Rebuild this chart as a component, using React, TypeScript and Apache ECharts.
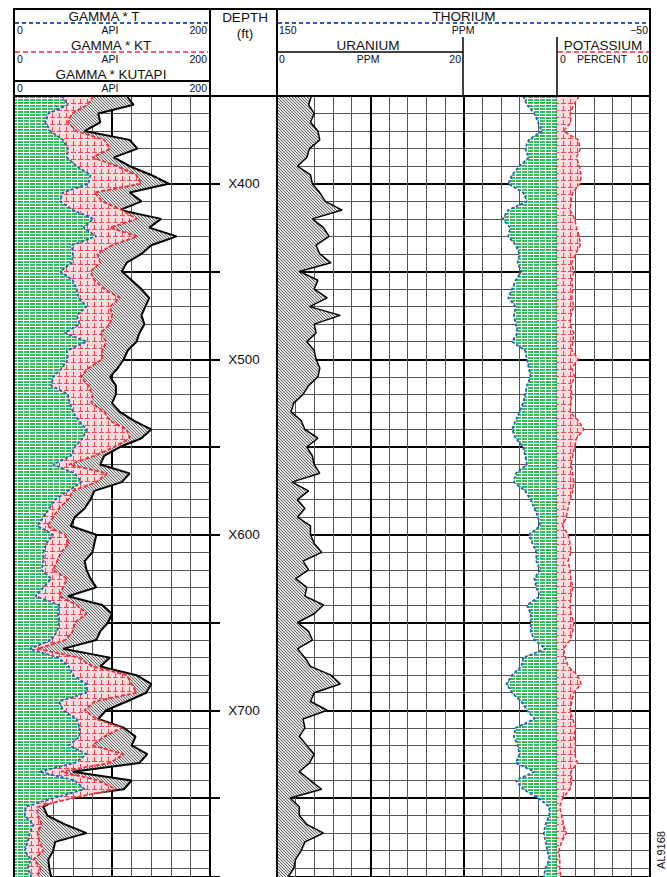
import React, { useEffect, useRef } from 'react';
import * as echarts from 'echarts';

// Depth categories (ft, shown as X###)
const depths = [
  350, 355, 360, 365, 370, 375, 380, 385, 390, 395, 400, 405, 410, 415, 420, 425, 430, 435, 440, 445,
  450, 455, 460, 465, 470, 475, 480, 485, 490, 495, 500, 505, 510, 515, 520, 525, 530, 535, 540, 545,
  550, 555, 560, 565, 570, 575, 580, 585, 590, 595, 600, 605, 610, 615, 620, 625, 630, 635, 640, 645,
  650, 655, 660, 665, 670, 675, 680, 685, 690, 695, 700, 705, 710, 715, 720, 725, 730, 735, 740, 745,
  750, 755, 760, 765, 770, 775, 780, 785, 790, 795,
];

// GAMMA * T (API)
const gammaT = [
  49, 55, 35, 32, 37, 50, 55, 54, 64, 78, 76, 50, 47, 60, 81, 71, 84, 59, 60, 59, 47, 60, 64, 66, 74, 64, 67, 52, 74, 54,
  55, 49, 40, 38, 55, 57, 60, 66, 74, 70, 62, 58, 40, 62, 69, 55, 42, 36, 30, 24, 40, 33, 30, 30, 28, 38, 30, 22, 46, 45,
  46, 44, 38, 16, 45, 56, 60, 74, 74, 46, 50, 64, 67, 67, 56, 74, 62, 26, 62, 72, 40, 12, 11, 20, 16, 14, 11, 17, 14, 18,
];

// GAMMA * KT (API)
const gammaKT = [
  81, 75, 59, 55, 64, 92, 98, 80, 105, 125, 130, 82, 90, 110, 125, 98, 126, 100, 85, 88, 78, 82, 92, 108, 98, 100, 98, 88, 94, 90,
  90, 76, 68, 76, 80, 79, 92, 98, 115, 118, 102, 82, 56, 95, 84, 60, 55, 46, 40, 34, 52, 56, 48, 44, 40, 54, 50, 46, 64, 74,
  62, 60, 52, 24, 66, 80, 115, 120, 125, 82, 72, 84, 110, 92, 80, 112, 98, 48, 86, 104, 60, 24, 24, 28, 24, 26, 30, 20, 27, 24,
];

// GAMMA * KUTAPI (API)
const gammaKUTAPI = [
  115, 122, 86, 88, 72, 118, 126, 102, 118, 140, 158, 118, 130, 108, 150, 138, 166, 140, 130, 115, 110, 120, 130, 138, 134, 130, 133, 128, 125, 116,
  112, 106, 98, 104, 104, 100, 108, 122, 140, 130, 108, 92, 88, 118, 110, 82, 78, 72, 62, 58, 84, 82, 80, 72, 74, 78, 84, 55, 90, 100,
  96, 88, 84, 50, 98, 88, 125, 140, 135, 115, 94, 86, 112, 124, 120, 136, 128, 60, 120, 112, 45, 30, 34, 52, 74, 42, 40, 35, 36, 38,
];

// URANIUM (PPM)
const uranium = [
  3.7, 3.4, 4.0, 3.6, 4.4, 4.6, 3.5, 3.2, 2.2, 3.6, 3.8, 4.6, 5.2, 7.0, 3.8, 5.0, 5.6, 4.2, 4.6, 5.8, 2.4, 4.4, 4.0, 5.4, 3.5, 6.8, 4.0, 4.2, 3.2, 4.0,
  4.2, 4.6, 4.4, 3.4, 2.8, 1.8, 1.5, 2.6, 3.0, 4.4, 3.2, 3.8, 4.0, 4.6, 1.6, 3.4, 2.2, 3.0, 2.2, 3.6, 3.6, 4.0, 4.8, 2.8, 3.4, 2.0, 3.2, 3.0, 5.0, 4.0,
  2.2, 3.4, 3.8, 2.2, 3.0, 3.6, 5.8, 6.8, 4.0, 3.6, 5.4, 2.8, 3.0, 2.4, 3.2, 4.0, 3.5, 2.4, 3.6, 4.8, 1.4, 2.4, 2.4, 3.2, 5.0, 3.0, 2.6, 2.0, 1.8, 1.2,
];

// THORIUM (PPM)
const thorium = [
  18, 16, 12, 10, 8, 15, 17, 15, 20, 24, 26, 18, 16, 26, 29, 25, 26, 22, 20, 21, 19, 22, 24, 26, 22, 23, 22, 21, 24, 17,
  16, 15, 14, 16, 17, 18, 20, 22, 24, 22, 18, 17, 16, 22, 23, 17, 14, 12, 10, 9, 15, 13, 11, 11, 9, 12, 11, 9, 16, 14,
  14, 14, 12, 6, 18, 19, 24, 27, 24, 19, 16, 12, 22, 23, 21, 20, 22, 12, 22, 18, 10, 4, 4, 6, 7, 6, 5, 4, 6, 7,
];

// POTASSIUM (PERCENT)
const potassium = [
  2.4, 1.8, 1.4, 1.5, 0.7, 2.3, 2.5, 2.1, 2.4, 2.6, 2.5, 1.7, 1.5, 1.4, 1.9, 2.1, 2.4, 2.5, 2.0, 1.6, 1.8, 1.6, 1.7, 1.6, 1.8, 1.5, 1.4, 1.8, 1.7, 1.6,
  2.3, 1.6, 1.9, 1.5, 1.6, 1.5, 1.4, 2.3, 2.9, 2.1, 1.9, 1.7, 1.5, 1.7, 1.8, 1.7, 1.4, 1.2, 1.0, 0.6, 1.2, 1.4, 1.5, 1.2, 1.4, 1.5, 1.7, 1.5, 1.4, 1.5,
  1.8, 1.7, 1.4, 0.7, 0.9, 1.2, 2.2, 2.6, 1.8, 1.6, 1.4, 1.7, 2.0, 1.8, 2.0, 1.9, 2.2, 1.5, 1.6, 1.4, 0.6, 0.3, 0.5, 0.7, 1.0, 0.5, 0.2, 0.3, 0.3, 0.4,
];

const BLUE = '#2b5cb8';
const RED = '#e8303a';
const FONT = '"Liberation Sans", Arial, Helvetica, sans-serif';

function makePattern(w: number, h: number, draw: (ctx: CanvasRenderingContext2D) => void) {
  const c = document.createElement('canvas');
  c.width = w;
  c.height = h;
  const ctx = c.getContext('2d') as CanvasRenderingContext2D;
  draw(ctx);
  return { image: c, repeat: 'repeat', imageWidth: w, imageHeight: h } as any;
}

export default function App() {
  const ref = useRef<HTMLDivElement>(null);

  useEffect(() => {
    if (!ref.current) return;
    const chart = echarts.init(ref.current, null, { renderer: 'svg' });

    const greenPat = makePattern(6, 3, (ctx) => {
      ctx.fillStyle = '#ffffff';
      ctx.fillRect(0, 0, 6, 3);
      ctx.fillStyle = '#3db865';
      ctx.fillRect(0, 0, 5, 2);
    });
    const pinkPat = makePattern(7, 7, (ctx) => {
      ctx.fillStyle = '#fcdadd';
      ctx.fillRect(0, 0, 7, 7);
      ctx.fillStyle = '#ec4a55';
      ctx.fillRect(3, 1, 1, 4);
      ctx.fillRect(1, 5, 5, 1);
    });
    const grayPat = makePattern(3, 3, (ctx) => {
      ctx.fillStyle = '#e2e2e2';
      ctx.fillRect(0, 0, 3, 3);
      ctx.fillStyle = '#666666';
      ctx.fillRect(0, 0, 1, 1);
      ctx.fillRect(1, 1, 1, 1);
      ctx.fillRect(2, 2, 1, 1);
    });

    const TOP = 96;
    const H = 782;
    const thin = { show: true, lineStyle: { color: '#555', width: 1 } };
    const thick = { show: true, lineStyle: { color: '#000', width: 2 } };
    const hidden = { axisLine: { show: false }, axisTick: { show: false }, axisLabel: { show: false } };

    const splitX = (grid: number, min: number, max: number, interval: number, style: any, inverse = false) => ({
      type: 'value', gridIndex: grid, min, max, interval, inverse, position: 'top', ...hidden, splitLine: style,
    });
    const splitY = (grid: number, interval: number, style: any) => ({
      type: 'value', gridIndex: grid, min: 350, max: 795, interval, inverse: true, ...hidden, splitLine: style,
    });
    const catY = (grid: number) => ({
      type: 'category', gridIndex: grid, data: depths, inverse: true, boundaryGap: false, show: false,
    });

    const hline = (x1: number, y1: number, x2: number, y2: number, stroke = '#000', lineWidth = 2, lineDash?: number[]) => ({
      type: 'line', z: 100, silent: true,
      shape: { x1, y1, x2, y2 },
      style: { stroke, lineWidth, lineDash },
    });
    const txt = (text: string, x: number, y: number, size: number, align = 'center', extra: any = {}) => ({
      type: 'text', z: 101, silent: true, x, y, ...extra,
      style: {
        text, font: `${size}px ${FONT}`, fill: '#111',
        align, textAlign: align, verticalAlign: 'middle', textVerticalAlign: 'middle',
      },
    });

    const option: any = {
      animation: false,
      backgroundColor: '#ffffff',
      grid: [
        { left: 14, top: TOP, width: 196, height: H },
        { left: 277, top: TOP, width: 186, height: H },
        { left: 277, top: TOP, width: 373, height: H },
        { left: 557, top: TOP, width: 93, height: H },
        { left: 210, top: TOP, width: 67, height: H },
      ],
      xAxis: [
        splitX(0, 0, 200, 20, thin),
        splitX(0, 0, 200, 100, thick),
        { type: 'value', gridIndex: 1, min: 0, max: 20, show: false },
        splitX(2, -50, 150, 10, thin, true),
        splitX(2, -50, 150, 50, thick, true),
        { type: 'value', gridIndex: 3, min: 0, max: 10, show: false },
        { type: 'value', gridIndex: 4, min: 0, max: 1, show: false },
      ],
      yAxis: [
        catY(0),
        splitY(0, 10, thin),
        splitY(0, 50, thick),
        catY(1),
        catY(2),
        splitY(2, 10, thin),
        splitY(2, 50, thick),
        catY(3),
        {
          type: 'value', gridIndex: 4, min: 350, max: 795, interval: 50, inverse: true, position: 'left',
          axisLine: { show: false },
          splitLine: { show: false },
          axisTick: { show: true, inside: true, length: 10, lineStyle: { color: '#000', width: 2 } },
          axisLabel: {
            show: true, inside: true, margin: 34, align: 'center',
            fontFamily: FONT, fontSize: 13.5, color: '#111',
            formatter: (v: number) => (v % 100 === 0 && v > 350 ? 'X' + String(v) : ''),
          },
        },
      ],
      series: [
        {
          type: 'line', name: 'GAMMA * KUTAPI', xAxisIndex: 0, yAxisIndex: 0, data: gammaKUTAPI,
          symbol: 'none', silent: true, z: 2,
          lineStyle: { color: '#000', width: 2 },
          areaStyle: { color: grayPat, opacity: 1, origin: 'start' },
        },
        {
          type: 'line', name: 'GAMMA * KT', xAxisIndex: 0, yAxisIndex: 0, data: gammaKT,
          symbol: 'none', silent: true, z: 3,
          lineStyle: { color: RED, width: 1.8, type: [4, 2] },
          areaStyle: { color: pinkPat, opacity: 1, origin: 'start' },
        },
        {
          type: 'line', name: 'GAMMA * T', xAxisIndex: 0, yAxisIndex: 0, data: gammaT,
          symbol: 'none', silent: true, z: 4,
          lineStyle: { color: BLUE, width: 1.8, type: [3, 2] },
          areaStyle: { color: greenPat, opacity: 1, origin: 'start' },
        },
        {
          type: 'line', name: 'URANIUM', xAxisIndex: 2, yAxisIndex: 3, data: uranium,
          symbol: 'none', silent: true, z: 3,
          lineStyle: { color: '#000', width: 1.5 },
          areaStyle: { color: grayPat, opacity: 1, origin: 'start' },
        },
        {
          type: 'line', name: 'THORIUM', xAxisIndex: 3, yAxisIndex: 4, data: thorium,
          symbol: 'none', silent: true, z: 3,
          lineStyle: { color: BLUE, width: 1.8, type: [3, 2] },
          areaStyle: { color: greenPat, opacity: 1, origin: 0 },
        },
        {
          type: 'line', name: 'POTASSIUM', xAxisIndex: 5, yAxisIndex: 7, data: potassium,
          symbol: 'none', silent: true, z: 4,
          lineStyle: { color: RED, width: 1.5, type: [4, 2] },
          areaStyle: { color: pinkPat, opacity: 1, origin: 'start' },
        },
      ],
      graphic: {
        elements: [
          // frame
          hline(13, 9, 651, 9),
          hline(14, 9, 14, 877),
          hline(650, 9, 650, 877),
          hline(210, 9, 210, 877),
          hline(277, 9, 277, 877),
          hline(13, 96, 651, 96),
          // gamma header
          hline(15, 23, 209, 23, BLUE, 2, [4, 3]),
          hline(15, 52, 208, 52, RED, 1.5, [5, 3]),
          hline(14, 81, 210, 81, '#000', 2),
          txt('GAMMA * T', 104, 16, 13.5),
          txt('0', 17, 30, 10.5, 'left'),
          txt('API', 110, 30, 10.5),
          txt('200', 207, 30, 10.5, 'right'),
          txt('GAMMA * KT', 111, 45, 13.5),
          txt('0', 17, 59, 10.5, 'left'),
          txt('API', 110, 59, 10.5),
          txt('200', 207, 59, 10.5, 'right'),
          txt('GAMMA * KUTAPI', 111, 74, 13.5),
          txt('0', 17, 88, 10.5, 'left'),
          txt('API', 110, 88, 10.5),
          txt('200', 207, 88, 10.5, 'right'),
          // depth header
          txt('DEPTH', 245, 17, 13.5),
          txt('(ft)', 245, 33, 13.5),
          // spectral header
          hline(278, 23, 649, 23, BLUE, 2, [4, 3]),
          txt('THORIUM', 464, 16, 13.5),
          txt('150', 279, 30, 10.5, 'left'),
          txt('PPM', 463, 30, 10.5),
          txt('\u221250', 648, 30, 10.5, 'right'),
          hline(463, 37, 463, 96, '#000', 1.5),
          hline(557, 37, 557, 96, '#000', 1.5),
          hline(277, 52, 463, 52, '#000', 1.5),
          txt('URANIUM', 368, 45, 13.5),
          txt('0', 279, 59, 10.5, 'left'),
          txt('PPM', 368, 59, 10.5),
          txt('20', 461, 59, 10.5, 'right'),
          hline(558, 52, 649, 52, RED, 1.5, [5, 3]),
          txt('POTASSIUM', 603, 45, 13.5),
          txt('0', 560, 59, 10.5, 'left'),
          txt('PERCENT', 602, 59, 10.5),
          txt('10', 648, 59, 10.5, 'right'),
          // figure id
          txt('AL9168', 661, 850, 11, 'center', { rotation: Math.PI / 2 }),
        ],
      },
    };

    chart.setOption(option);
    return () => chart.dispose();
  }, []);

  return (
    <div style={{ position: 'absolute', left: 0, top: 0, width: 667, height: 877, background: '#fff', overflow: 'hidden' }}>
      <div ref={ref} style={{ width: 667, height: 877 }} />
    </div>
  );
}
